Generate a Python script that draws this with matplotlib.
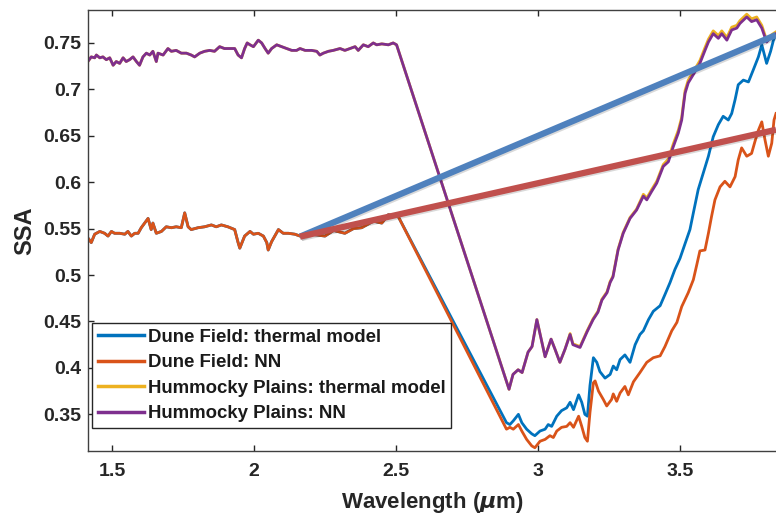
import matplotlib.pyplot as plt
import matplotlib.patheffects as pe

plt.rcParams['font.family'] = ['Liberation Sans', 'DejaVu Sans']
plt.rcParams['font.weight'] = 'bold'
plt.rcParams['axes.labelweight'] = 'bold'

# shared plateau (2.5 um side) for the dune field, both retrievals agree there
dune_flat_x = [1.415, 1.427, 1.439, 1.457, 1.474, 1.486, 1.498, 1.509, 1.527, 1.545,
               1.556, 1.568, 1.580, 1.592, 1.603, 1.615, 1.627, 1.638, 1.644, 1.656,
               1.674, 1.691, 1.709, 1.726, 1.744, 1.756, 1.768, 1.779, 1.803, 1.826,
               1.850, 1.867, 1.885, 1.908, 1.932, 1.944, 1.950, 1.967, 1.986, 1.998,
               2.015, 2.033, 2.045, 2.050, 2.062, 2.086, 2.103, 2.121, 2.144, 2.162,
               2.200, 2.250, 2.280, 2.320, 2.350, 2.379, 2.420, 2.450, 2.473, 2.508]
dune_flat_y = [0.540, 0.535, 0.544, 0.547, 0.545, 0.542, 0.547, 0.545, 0.545, 0.544,
               0.547, 0.542, 0.545, 0.545, 0.551, 0.556, 0.561, 0.549, 0.556, 0.545,
               0.547, 0.552, 0.551, 0.552, 0.551, 0.567, 0.552, 0.549, 0.551, 0.552,
               0.554, 0.552, 0.554, 0.552, 0.549, 0.535, 0.529, 0.542, 0.547, 0.544,
               0.545, 0.542, 0.535, 0.527, 0.536, 0.549, 0.545, 0.545, 0.544, 0.542,
               0.544, 0.542, 0.548, 0.545, 0.550, 0.551, 0.558, 0.556, 0.565, 0.563]

dune_thermal_tail_x = [2.889, 2.901, 2.913, 2.931, 2.943, 2.960, 2.978, 2.989, 3.007, 3.025,
                       3.036, 3.048, 3.066, 3.083, 3.101, 3.113, 3.125, 3.143, 3.154, 3.165,
                       3.174, 3.183, 3.195, 3.207, 3.218, 3.236, 3.254, 3.265, 3.277, 3.289,
                       3.306, 3.324, 3.342, 3.359, 3.371, 3.389, 3.406, 3.430, 3.447, 3.465,
                       3.482, 3.500, 3.518, 3.535, 3.547, 3.564, 3.582, 3.600, 3.617, 3.635,
                       3.652, 3.670, 3.682, 3.694, 3.705, 3.723, 3.741, 3.758, 3.776, 3.788,
                       3.805, 3.819, 3.829, 3.838]
dune_thermal_tail_y = [0.341, 0.339, 0.343, 0.350, 0.341, 0.334, 0.329, 0.327, 0.332, 0.334,
                       0.339, 0.337, 0.348, 0.354, 0.357, 0.363, 0.355, 0.371, 0.363, 0.350,
                       0.348, 0.381, 0.411, 0.406, 0.396, 0.389, 0.393, 0.402, 0.398, 0.409,
                       0.414, 0.406, 0.425, 0.436, 0.440, 0.452, 0.461, 0.467, 0.479, 0.492,
                       0.506, 0.518, 0.534, 0.549, 0.567, 0.592, 0.610, 0.628, 0.649, 0.662,
                       0.671, 0.667, 0.674, 0.689, 0.705, 0.710, 0.708, 0.721, 0.735, 0.748,
                       0.728, 0.741, 0.753, 0.760]

dune_nn_tail_x = [2.889, 2.901, 2.913, 2.931, 2.943, 2.960, 2.978, 2.989, 3.007, 3.025,
                  3.042, 3.054, 3.066, 3.083, 3.101, 3.113, 3.125, 3.143, 3.154, 3.165,
                  3.174, 3.183, 3.195, 3.201, 3.213, 3.230, 3.242, 3.259, 3.265, 3.277,
                  3.289, 3.306, 3.318, 3.336, 3.359, 3.383, 3.406, 3.430, 3.447, 3.471,
                  3.489, 3.506, 3.529, 3.547, 3.559, 3.570, 3.588, 3.600, 3.611, 3.623,
                  3.641, 3.658, 3.676, 3.694, 3.705, 3.717, 3.735, 3.752, 3.764, 3.776,
                  3.788, 3.799, 3.811, 3.823, 3.831, 3.838]
dune_nn_tail_y = [0.334, 0.336, 0.334, 0.339, 0.332, 0.323, 0.316, 0.314, 0.321, 0.323,
                  0.327, 0.325, 0.332, 0.336, 0.337, 0.341, 0.336, 0.348, 0.337, 0.325,
                  0.321, 0.352, 0.384, 0.386, 0.375, 0.366, 0.359, 0.366, 0.372, 0.364,
                  0.373, 0.380, 0.371, 0.385, 0.395, 0.406, 0.411, 0.413, 0.423, 0.440,
                  0.449, 0.466, 0.481, 0.495, 0.511, 0.526, 0.527, 0.545, 0.563, 0.581,
                  0.595, 0.601, 0.595, 0.606, 0.624, 0.637, 0.628, 0.631, 0.644, 0.656,
                  0.665, 0.646, 0.628, 0.642, 0.667, 0.674]

# hummocky plains plateau, identical for both retrievals
hum_flat_x = [1.415, 1.427, 1.439, 1.445, 1.457, 1.468, 1.480, 1.492, 1.504, 1.515,
              1.527, 1.539, 1.550, 1.562, 1.574, 1.586, 1.597, 1.609, 1.621, 1.633,
              1.644, 1.656, 1.662, 1.680, 1.697, 1.709, 1.726, 1.744, 1.762, 1.779,
              1.791, 1.809, 1.826, 1.844, 1.861, 1.879, 1.896, 1.914, 1.932, 1.944,
              1.956, 1.967, 1.976, 1.986, 1.998, 2.015, 2.027, 2.039, 2.050, 2.062,
              2.080, 2.097, 2.115, 2.133, 2.150, 2.162, 2.180, 2.203, 2.221, 2.232,
              2.244, 2.262, 2.279, 2.303, 2.320, 2.338, 2.356, 2.367, 2.385, 2.402,
              2.420, 2.432, 2.450, 2.473, 2.490, 2.502]
hum_flat_y = [0.730, 0.735, 0.734, 0.737, 0.734, 0.735, 0.732, 0.734, 0.726, 0.730,
              0.728, 0.734, 0.730, 0.732, 0.735, 0.730, 0.726, 0.735, 0.739, 0.737,
              0.741, 0.730, 0.739, 0.737, 0.744, 0.741, 0.742, 0.739, 0.739, 0.737,
              0.735, 0.739, 0.741, 0.742, 0.741, 0.746, 0.744, 0.744, 0.744, 0.737,
              0.734, 0.744, 0.750, 0.748, 0.746, 0.753, 0.750, 0.744, 0.739, 0.744,
              0.748, 0.746, 0.744, 0.742, 0.742, 0.744, 0.742, 0.742, 0.741, 0.737,
              0.739, 0.741, 0.742, 0.744, 0.742, 0.744, 0.746, 0.742, 0.748, 0.746,
              0.750, 0.748, 0.749, 0.748, 0.750, 0.748]

hum_tail_x = [2.898, 2.912, 2.930, 2.944, 2.965, 2.979, 2.996, 3.014, 3.025, 3.046,
              3.060, 3.077, 3.095, 3.113, 3.123, 3.148, 3.173, 3.194, 3.211, 3.225,
              3.243, 3.254, 3.264, 3.282, 3.300, 3.324, 3.347, 3.371, 3.383, 3.400,
              3.418, 3.441, 3.459, 3.476, 3.494, 3.506, 3.512, 3.518, 3.529, 3.547,
              3.570, 3.588, 3.600, 3.617, 3.635, 3.647, 3.665, 3.682, 3.700, 3.711,
              3.735, 3.752, 3.770, 3.788, 3.805, 3.823, 3.838]
hum_nn_tail_y = [0.377, 0.393, 0.398, 0.395, 0.417, 0.423, 0.452, 0.427, 0.412, 0.431,
                 0.420, 0.406, 0.420, 0.436, 0.425, 0.422, 0.439, 0.452, 0.460, 0.473,
                 0.481, 0.492, 0.498, 0.527, 0.545, 0.561, 0.570, 0.585, 0.581, 0.590,
                 0.599, 0.617, 0.622, 0.638, 0.653, 0.667, 0.682, 0.696, 0.707, 0.716,
                 0.728, 0.742, 0.751, 0.760, 0.755, 0.760, 0.753, 0.764, 0.766, 0.771,
                 0.778, 0.773, 0.775, 0.766, 0.751, 0.757, 0.760]
hum_thermal_tail_y = [0.377, 0.393, 0.398, 0.395, 0.417, 0.423, 0.452, 0.427, 0.412, 0.431,
                      0.420, 0.406, 0.420, 0.437, 0.426, 0.423, 0.440, 0.453, 0.461, 0.474,
                      0.482, 0.493, 0.499, 0.528, 0.546, 0.562, 0.571, 0.587, 0.583, 0.592,
                      0.601, 0.619, 0.625, 0.641, 0.656, 0.670, 0.685, 0.699, 0.710, 0.719,
                      0.731, 0.745, 0.754, 0.763, 0.758, 0.763, 0.756, 0.767, 0.769, 0.774,
                      0.781, 0.776, 0.778, 0.769, 0.753, 0.759, 0.762]

labels = ['Dune Field: thermal model', 'Dune Field: NN',
          'Hummocky Plains: thermal model', 'Hummocky Plains: NN']
colors = ['#0072BD', '#D95319', '#EDB120', '#7E2F8E']

# two slope guides drawn over the spectra
guide_x = [2.162, 3.838]
guide_blue_y = [0.5414, 0.7586]
guide_red_y = [0.5414, 0.6565]

xticks = [1.5, 2, 2.5, 3, 3.5]
xticklabels = ['1.5', '2', '2.5', '3', '3.5']
yticks = [0.35, 0.4, 0.45, 0.5, 0.55, 0.6, 0.65, 0.7, 0.75]
yticklabels = ['0.35', '0.4', '0.45', '0.5', '0.55', '0.6', '0.65', '0.7', '0.75']

series = [
    (dune_flat_x + dune_thermal_tail_x, dune_flat_y + dune_thermal_tail_y),
    (dune_flat_x + dune_nn_tail_x, dune_flat_y + dune_nn_tail_y),
    (hum_flat_x + hum_tail_x, hum_flat_y + hum_thermal_tail_y),
    (hum_flat_x + hum_tail_x, hum_flat_y + hum_nn_tail_y),
]

fig = plt.figure(figsize=(7.76, 5.17), dpi=100)
ax = fig.add_axes([88 / 776, 1 - 451 / 517, 688 / 776, 441 / 517])

for (x, y), lab, c in zip(series, labels, colors):
    ax.plot(x, y, color=c, lw=2, label=lab)

shadow = [pe.SimpleLineShadow(offset=(1, -1), alpha=0.15), pe.Normal()]
ax.plot(guide_x, guide_blue_y, color='#4F81BD', lw=4.5, solid_capstyle='butt',
        path_effects=shadow, zorder=5)
ax.plot(guide_x, guide_red_y, color='#C0504D', lw=4.5, solid_capstyle='butt',
        path_effects=shadow, zorder=5)

ax.set_xlim(1.4155, 3.838)
ax.set_ylim(0.3105, 0.7855)
ax.set_xticks(xticks)
ax.set_xticklabels(xticklabels)
ax.set_yticks(yticks)
ax.set_yticklabels(yticklabels)
ax.tick_params(direction='in', length=4, width=1, color='#262626',
               labelsize=14, labelcolor='#262626', top=True)
ax.tick_params(axis='x', pad=9)
ax.tick_params(axis='y', pad=5)
for s in ['left', 'bottom', 'top']:
    ax.spines[s].set_color('#404040')
    ax.spines[s].set_linewidth(1)
ax.spines['right'].set_visible(False)

ax.set_xlabel('Wavelength ($\\mu$m)', fontsize=16, fontweight='bold', color='#262626')
ax.set_ylabel('SSA', fontsize=17, fontweight='bold', color='#262626')
ax.xaxis.set_label_coords(0.5, -0.088)
ax.xaxis.label.set_va('top')
ax.yaxis.set_label_coords(-0.075, 0.5)

leg = ax.legend(loc='lower left', bbox_to_anchor=(0.006, 0.053), fontsize=13.4,
                frameon=True, fancybox=False, edgecolor='#262626', framealpha=1,
                handlelength=2.5, handletextpad=0.2, borderpad=0.3,
                labelspacing=0.45, borderaxespad=0)
leg.get_frame().set_linewidth(1)
for line in leg.get_lines():
    line.set_linewidth(2.5)
for t in leg.get_texts():
    t.set_color('#1a1a1a')

fig.savefig('out.png', dpi=100)
